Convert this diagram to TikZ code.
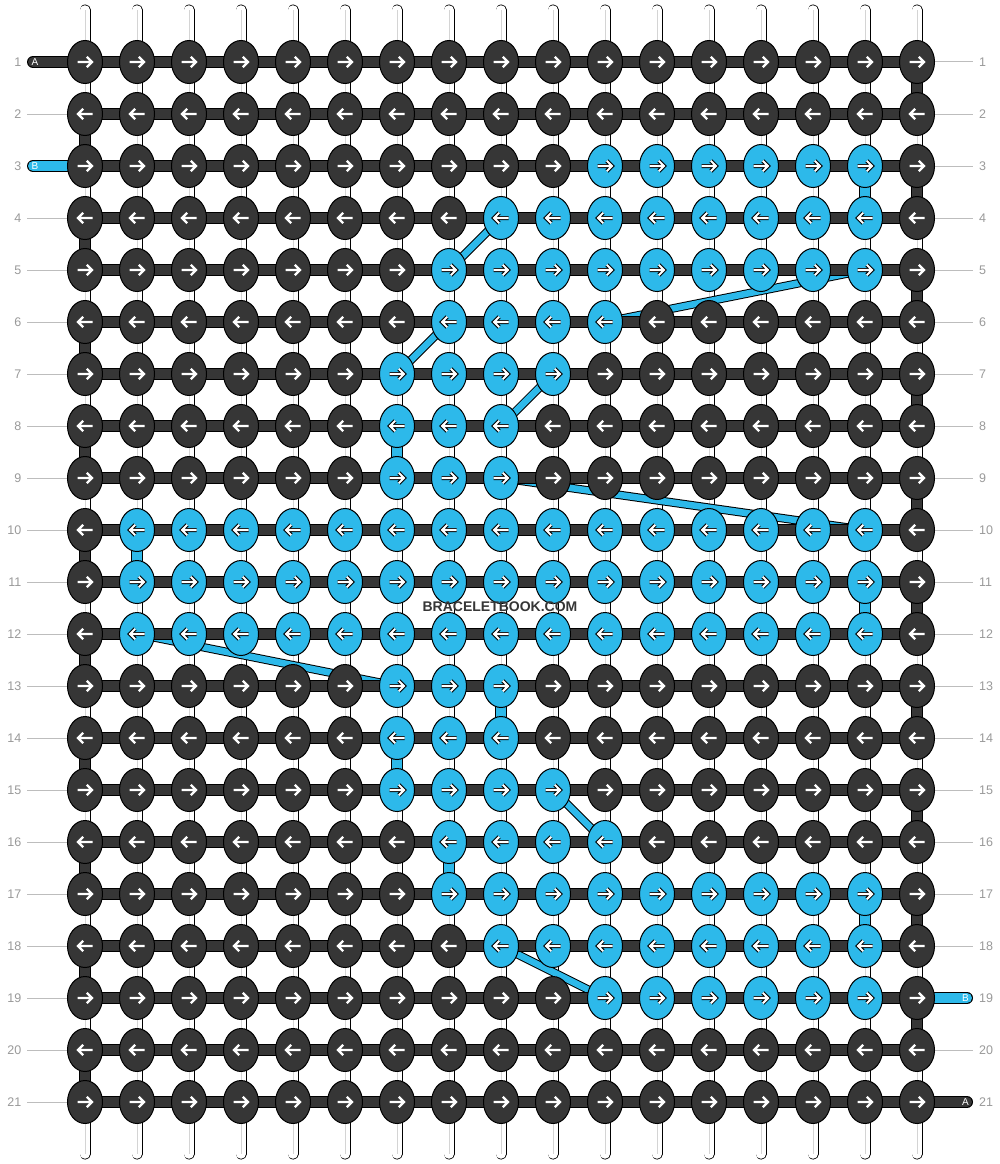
\documentclass[tikz,border=0pt]{standalone}
\usepackage{fontspec}
\setmainfont{Liberation Sans}
\usetikzlibrary{shapes.geometric}
\definecolor{dk}{HTML}{363636}
\definecolor{bl}{HTML}{2DB9EA}
\definecolor{lbl}{HTML}{9A9A9A}
\definecolor{gl}{HTML}{BDBDBD}
\definecolor{sg}{HTML}{D4D4D4}
\tikzset{
  knot/.style={ellipse, draw=black, line width=1pt, minimum width=35pt, minimum height=43pt, inner sep=0pt},
  strg/.style={draw=white, line width=9.5pt, line cap=round, preaction={draw=black, line width=11pt, line cap=round}},
  strgmid/.style={draw=sg, line width=1pt},
  hbar/.style={draw=dk, line width=10.5pt, preaction={draw=black, line width=12pt}},
  dthr/.style={draw=dk, line width=10pt, preaction={draw=black, line width=11.5pt}},
  bthr/.style={draw=bl, line width=10pt, preaction={draw=black, line width=11.5pt}},
  bdiag/.style={draw=bl, line width=6.5pt, preaction={draw=black, line width=8.5pt}},
  dtab/.style={draw=dk, line width=10pt, line cap=round, preaction={draw=black, line width=12pt, line cap=round}},
  btab/.style={draw=bl, line width=10pt, line cap=round, preaction={draw=black, line width=12pt, line cap=round}},
  tablbl/.style={text=white, font=\fontsize{10pt}{10pt}\selectfont, inner sep=0pt},
  rowlbl/.style={text=lbl, font=\fontsize{12.5pt}{12.5pt}\selectfont, inner sep=0pt},
  guide/.style={draw=gl, line width=1pt},
  arrw/.style={draw=white, line width=2.4pt},
  arrbo/.style={draw=black, line width=4pt},
  arrbi/.style={draw=white, line width=2.1pt}
}
\begin{document}
\begin{tikzpicture}[x=1pt,y=-1pt]
\useasboundingbox[fill=white] (0,0) rectangle (1000,1164);
% grid coordinates
\foreach \r in {1,...,21}{
  \foreach \c in {1,...,17}{
    \coordinate (p-\r-\c) at ({85+52*(\c-1)},{62+52*(\r-1)});
  }
}
\foreach \c in {1,...,17}{
  \coordinate (t-\c) at ({85+52*(\c-1)},10);
  \coordinate (b-\c) at ({85+52*(\c-1)},1154);
}
% vertical strings
\foreach \c in {1,...,17}{
  \draw[strg] (t-\c) -- (b-\c);
  \draw[strgmid] (t-\c) -- (b-\c);
}
% blue diagonals (behind bars)
\foreach \ra/\ca/\rb/\cb in {4/9/5/8, 5/16/6/11, 6/8/7/7, 7/10/8/9, 9/9/10/16, 12/2/13/7, 15/10/16/11, 18/9/19/11}{
  \draw[bdiag] (p-\ra-\ca) -- (p-\rb-\cb);
}
% horizontal bars
\foreach \r in {1,...,21}{
  \draw[hbar] (p-\r-1) -- (p-\r-17);
}
% edge connectors of thread A
\foreach \r in {1,3,...,19}{
  \pgfmathtruncatemacro\rn{\r+1}
  \draw[dthr] (p-\r-17) -- (p-\rn-17);
}
\foreach \r in {2,4,...,20}{
  \pgfmathtruncatemacro\rn{\r+1}
  \draw[dthr] (p-\r-1) -- (p-\rn-1);
}
% vertical connectors of thread B
\foreach \r/\c in {3/16, 8/7, 10/2, 11/16, 13/9, 14/7, 16/8, 17/16}{
  \pgfmathtruncatemacro\rn{\r+1}
  \draw[bthr] (p-\r-\c) -- (p-\rn-\c);
}
% tabs
\coordinate (tA1) at (33,62);
\coordinate (tB3) at (33,166);
\coordinate (tB19) at (967,998);
\coordinate (tA21) at (967,1102);
\draw[dtab] (tA1) -- (p-1-1);
\draw[btab] (tB3) -- (p-3-1);
\draw[btab] (p-19-17) -- (tB19);
\draw[dtab] (p-21-17) -- (tA21);
\node[tablbl] (lA1) at (35,62) {A};
\node[tablbl] (lB3) at (35,166) {B};
\node[tablbl] (lB19) at (965.5,998) {B};
\node[tablbl] (lA21) at (965.5,1102) {A};
% row labels and guide lines
\foreach \r in {1,...,21}{
  \node[rowlbl, anchor=east] (ll-\r) at (21.5,{62+52*(\r-1)}) {\r};
  \node[rowlbl, anchor=west] (rl-\r) at (979,{62+52*(\r-1)}) {\r};
}
\foreach \r in {2,4,5,...,21}{
  \coordinate (gl-\r) at (27,{62+52*(\r-1)});
  \draw[guide] (gl-\r) -- (p-\r-1);
}
\foreach \r in {1,...,18,20}{
  \coordinate (gr-\r) at (973,{62+52*(\r-1)});
  \draw[guide] (p-\r-17) -- (gr-\r);
}
% knots with arrows
\foreach \r/\a/\b in {1/99/0, 2/99/0, 3/11/16, 4/9/16, 5/8/16, 6/8/11, 7/7/10, 8/7/9, 9/7/9, 10/2/16, 11/2/16, 12/2/16, 13/7/9, 14/7/9, 15/7/10, 16/8/11, 17/8/16, 18/9/16, 19/11/16, 20/99/0, 21/99/0}{
  \foreach \c in {1,...,17}{
    \def\isbl{1}
    \ifnum\c<\a\relax \def\isbl{0}\fi
    \ifnum\c>\b\relax \def\isbl{0}\fi
    \ifodd\r\relax \def\dir{1}\else \def\dir{-1}\fi
    \ifnum\isbl=1\relax
      \node[knot, fill=bl] (k-\r-\c) at (p-\r-\c) {};
      \begin{scope}[shift={(p-\r-\c)}, xscale=\dir]
        \draw[arrbo] (-7.5,0) -- (7,0) (1.8,-5.2) -- (7,0) -- (1.8,5.2);
        \draw[arrbi] (-7.5,0) -- (7,0) (1.8,-5.2) -- (7,0) -- (1.8,5.2);
      \end{scope}
    \else
      \node[knot, fill=dk] (k-\r-\c) at (p-\r-\c) {};
      \begin{scope}[shift={(p-\r-\c)}, xscale=\dir]
        \draw[arrw] (-7.5,0) -- (7,0) (1.8,-5.2) -- (7,0) -- (1.8,5.2);
      \end{scope}
    \fi
  }
}
% watermark
\node[text=dk, font=\bfseries\fontsize{14pt}{14pt}\selectfont, inner sep=0pt] (wm) at (500,607) {BRACELETBOOK.COM};
\end{tikzpicture}
\end{document}
